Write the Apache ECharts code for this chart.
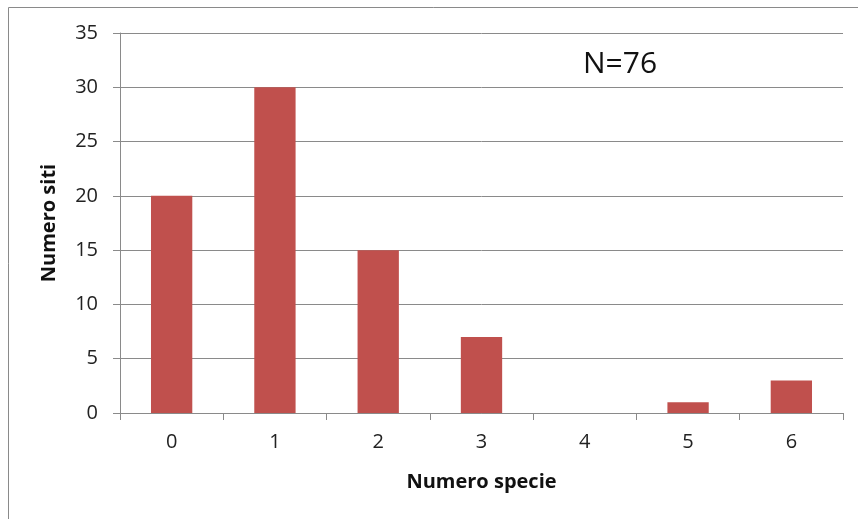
<!DOCTYPE html>
<html><head><meta charset="utf-8">
<script src="https://cdn.jsdelivr.net/npm/echarts@6/dist/echarts.min.js"></script>
<style>html,body{margin:0;padding:0;background:#fff}#c{width:858px;height:519px}</style>
</head><body><div id="c"></div>
<script>
var categories = ['0','1','2','3','4','5','6'];
var values = [20, 30, 15, 7, 0, 1, 3];
var yTicks = [0, 5, 10, 15, 20, 25, 30, 35];
var annotation = 'N=76';
var xTitle = 'Numero specie';
var yTitle = 'Numero siti';

var FONT = '"Open Sans", "Liberation Sans", sans-serif';
var chart = echarts.init(document.getElementById('c'));
chart.setOption({
  animation: false,
  grid: {left: 120, right: 15, top: 33, bottom: 106},
  xAxis: {
    type: 'category', data: categories,
    axisLine: {lineStyle: {color: '#8a8a8a', width: 1}},
    axisTick: {show: true, length: 7, lineStyle: {color: '#8a8a8a'}},
    axisLabel: {color: '#222', fontSize: 20, fontFamily: FONT, margin: 19},
    name: xTitle, nameLocation: 'middle', nameGap: 59,
    nameTextStyle: {fontWeight: 'bold', fontSize: 20, color: '#111', fontFamily: FONT}
  },
  yAxis: {
    type: 'value', min: yTicks[0], max: yTicks[yTicks.length-1], interval: 5,
    axisLine: {show: true, lineStyle: {color: '#8a8a8a', width: 1}},
    axisTick: {show: true, length: 7, lineStyle: {color: '#8a8a8a'}},
    splitLine: {lineStyle: {color: '#8a8a8a', width: 1}},
    axisLabel: {color: '#222', fontSize: 20, fontFamily: FONT, margin: 22},
    name: yTitle, nameLocation: 'middle', nameGap: 61, nameRotate: 90,
    nameTextStyle: {fontWeight: 'bold', fontSize: 20, color: '#111', fontFamily: FONT}
  },
  series: [{
    type: 'bar', data: values, barWidth: '40%',
    itemStyle: {color: '#C0504D'}
  }],
  graphic: [
    {type: 'line', shape: {x1: 8.5, y1: 7.5, x2: 858, y2: 7.5}, style: {stroke: '#8a8a8a', lineWidth: 1}},
    {type: 'line', shape: {x1: 8.5, y1: 7.5, x2: 8.5, y2: 519}, style: {stroke: '#8a8a8a', lineWidth: 1}},
    {type: 'text', x: 583, y: 64, style: {text: annotation, fontSize: 30, fontFamily: FONT, fill: '#111', textVerticalAlign: 'middle'}}
  ]
});
</script></body></html>
